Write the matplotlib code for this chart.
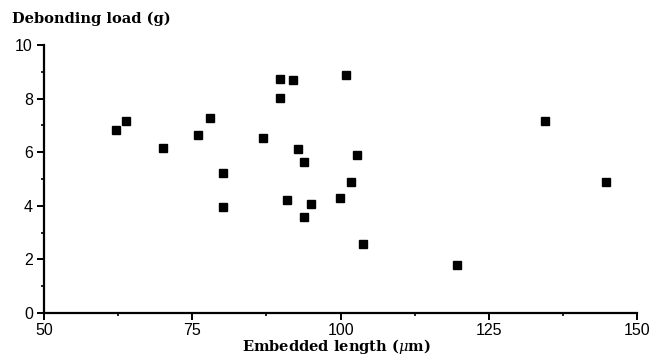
import matplotlib
matplotlib.use('Agg')
import matplotlib.pyplot as plt
from matplotlib.ticker import MultipleLocator

# Embedded length (um) and debonding load (g).
embedded_length = [62.1, 63.9, 70.0, 76.0, 77.9, 80.1, 80.1, 86.9, 89.85, 89.85,
                   92.0, 92.8, 93.8, 91.0, 93.8, 95.0, 99.9, 101.7, 100.9, 102.8,
                   103.8, 119.6, 134.5, 144.8]
debonding_load = [6.82, 7.16, 6.17, 6.64, 7.29, 5.24, 3.97, 6.54, 8.74, 8.01,
                  8.68, 6.12, 5.65, 4.23, 3.57, 4.06, 4.30, 4.89, 8.87, 5.90,
                  2.56, 1.79, 7.15, 4.88]

plt.rcParams['mathtext.fontset'] = 'dejavuserif'

fig = plt.figure(figsize=(6.54, 3.61), dpi=100)
ax = fig.add_axes([0.0673, 0.133, 0.907, 0.742])

ax.plot(embedded_length, debonding_load, 's', color='black', markersize=6, clip_on=False)

ax.set_xlim(50, 150)
ax.set_ylim(0, 10)
ax.xaxis.set_major_locator(MultipleLocator(25))
ax.xaxis.set_minor_locator(MultipleLocator(12.5))
ax.yaxis.set_major_locator(MultipleLocator(2))
ax.yaxis.set_minor_locator(MultipleLocator(1))

for side in ['top', 'right']:
    ax.spines[side].set_visible(False)
for side in ['left', 'bottom']:
    ax.spines[side].set_linewidth(1.6)

ax.tick_params(axis='both', which='major', direction='out', length=5, width=1.4,
               labelsize=11.5, pad=3)
ax.tick_params(axis='x', which='major', pad=2)
ax.tick_params(axis='both', which='minor', direction='out', length=2.5, width=1.2)
for lbl in ax.get_xticklabels() + ax.get_yticklabels():
    lbl.set_fontfamily('Liberation Sans')

# Axis titles
fig.text(0.018, 0.948, "Debonding load (g)", fontsize=10.5, fontweight='bold',
         family='DejaVu Serif', ha='left', va='center')
fig.text(0.515, 0.028, "Embedded length ($\\mu$m)", fontsize=10.5, fontweight='bold',
         family='DejaVu Serif', ha='center', va='baseline')

fig.savefig('out.png', dpi=100)
